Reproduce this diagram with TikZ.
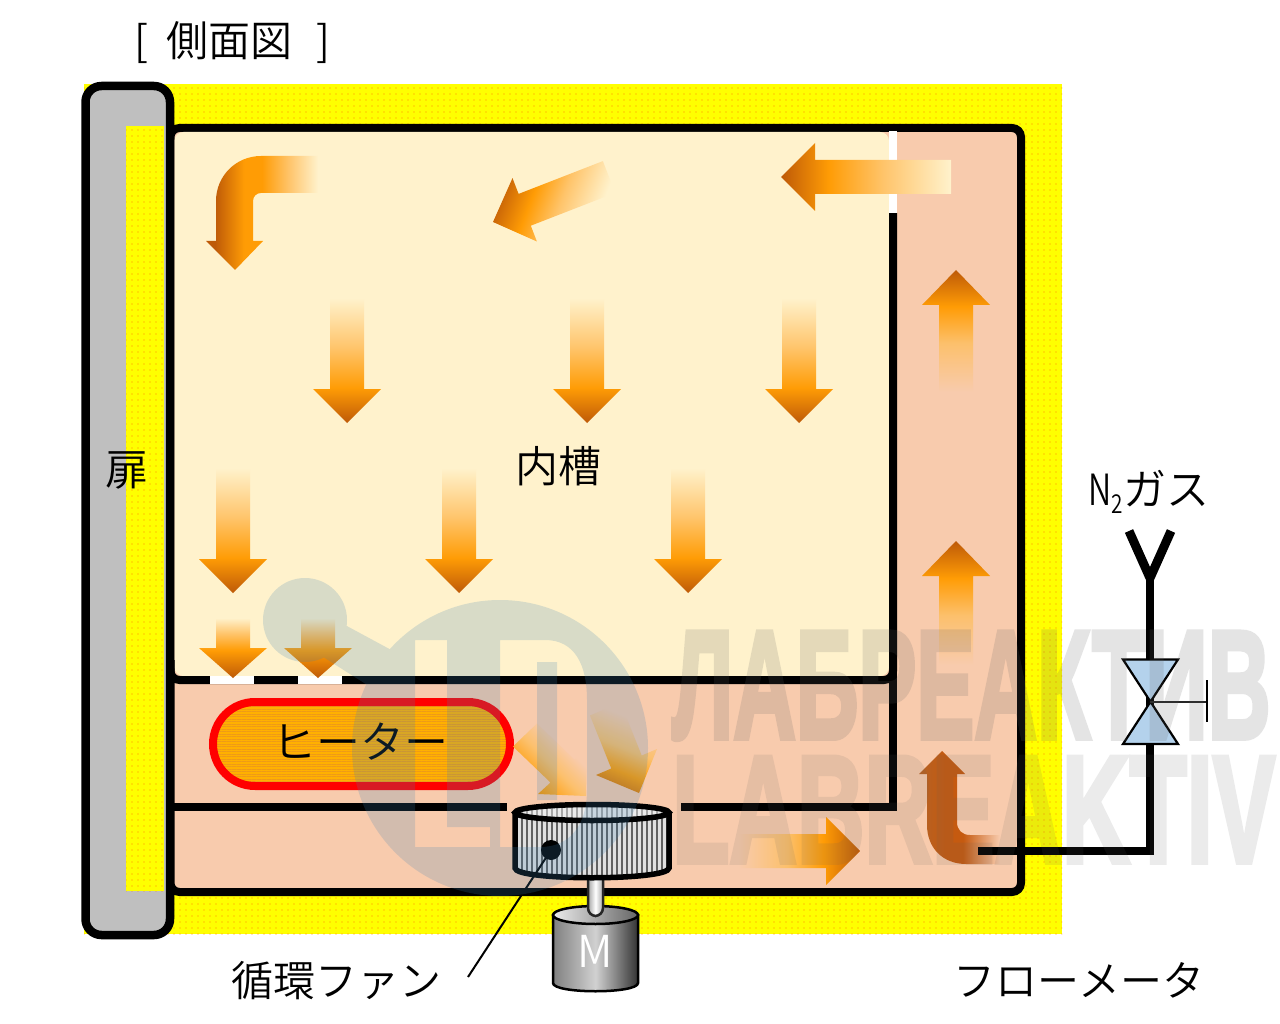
\documentclass[tikz,border=0pt]{standalone}
\usepackage{fontspec}
\usepackage{graphicx}
\setmainfont{Noto Sans CJK JP DemiLight}
\newfontfamily\wmfont[FakeBold=3.5]{Liberation Sans Bold}
\usetikzlibrary{patterns.meta}
\definecolor{cream}{HTML}{FFF2CC}
\definecolor{peach}{HTML}{F8CBAD}
\definecolor{dk}{HTML}{BE5A08}
\definecolor{orng}{HTML}{FF9C05}
\definecolor{lor}{HTML}{FFC46A}
\definecolor{lpe}{HTML}{FCC06C}
\definecolor{dkb}{HTML}{B86020}
\definecolor{dkc}{HTML}{C55A10}
\definecolor{doorgray}{HTML}{BFBFBF}
\definecolor{valveblue}{HTML}{B4D2EC}
\definecolor{logoblue}{HTML}{3C82B4}
\definecolor{pureyellow}{RGB}{255,255,0}
\definecolor{dotorange}{RGB}{255,130,0}
\definecolor{purered}{RGB}{255,0,0}
\definecolor{heatfill}{HTML}{FFB000}
\definecolor{heatline}{HTML}{EE9A18}
\pgfdeclareverticalshading{fadecream}{100bp}{color(0bp)=(cream);color(25bp)=(cream);color(45bp)=(lor);color(61bp)=(orng);color(75bp)=(dk);color(100bp)=(dk)}
\pgfdeclareverticalshading{diagcream}{100bp}{color(0bp)=(cream);color(29bp)=(cream);color(47bp)=(lor);color(60bp)=(orng);color(76bp)=(dk);color(100bp)=(dk)}
\pgfdeclareverticalshading{fadepeach}{100bp}{color(0bp)=(peach);color(25bp)=(peach);color(45bp)=(lpe);color(60bp)=(orng);color(75bp)=(dk);color(100bp)=(dk)}
\pgfdeclareverticalshading{shortcream}{100bp}{color(0bp)=(cream);color(25bp)=(cream);color(38bp)=(lor);color(52bp)=(orng);color(75bp)=(dk);color(100bp)=(dk)}
\pgfdeclareverticalshading{diagpeach}{100bp}{color(0bp)=(peach);color(32bp)=(peach);color(50bp)=(lpe);color(64bp)=(orng);color(82bp)=(dk);color(100bp)=(dk)}
\pgfdeclareverticalshading{diagpeachB}{100bp}{color(0bp)=(peach);color(36bp)=(peach);color(52bp)=(lpe);color(70bp)=(orng);color(92bp)=(dk);color(100bp)=(dk)}
\pgfdeclarehorizontalshading{cornerA}{100bp}{color(0bp)=(dk);color(25bp)=(dk);color(29bp)=(dk);color(42bp)=(orng);color(50bp)=(orng);color(62bp)=(lor);color(75bp)=(cream);color(100bp)=(cream)}
\pgfdeclarehorizontalshading{cornerB}{100bp}{color(0bp)=(dkb);color(29bp)=(dkb);color(40bp)=(dkc);color(50bp)=(dkc);color(71bp)=(peach);color(100bp)=(peach)}
\tikzset{
  yellowzone/.style={fill=pureyellow},
  yellowdots/.style={pattern={Dots[radius=0.7pt,distance=6pt]},pattern color=dotorange},
  wall/.style={draw=black,line width=8pt},
  pipeline/.style={draw=black,line width=7.5pt},
  lbl/.style={inner sep=0pt,font=\fontsize{#1}{#1}\selectfont},
  downflow/.style={shading=fadecream,shading angle=180},
  shortflow/.style={shading=shortcream,shading angle=180},
  upflow/.style={shading=fadepeach,shading angle=0},
  wmark/.style={inner sep=0pt,anchor=north west,text=black!62}
}
\newcommand{\downflowat}[3]{% x, top, headbase
  \shade[downflow] (#1-17,#2) -- (#1+17,#2) -- (#1+17,#3) -- (#1+34,#3) -- (#1,#3+34) -- (#1-34,#3) -- (#1-17,#3) -- cycle;}
\begin{document}
\begin{tikzpicture}[x=1pt,y=-1pt]
\useasboundingbox (0,0) rectangle (1280,1024);
\fill[white] (0,0) rectangle (1280,1024);
% insulation
\path[yellowzone] (84,84) rectangle (1062,934);
\path[yellowdots] (84,84) rectangle (1062,934);
% door
\draw[line width=8.5pt,fill=doorgray,rounded corners=16pt] (85.5,86) rectangle (170,935);
\path[yellowzone] (126,126) rectangle (164,891);
\path[yellowdots] (126,126) rectangle (164,891);
% chamber
\draw[wall,fill=peach,rounded corners=9pt] (170.5,128) rectangle (1021,892);
\fill[cream,rounded corners=9pt] (174.5,132) rectangle (889,676);
% tank walls
\draw[wall,line cap=butt,rounded corners=9pt] (170.5,660) -- (170.5,680) -- (893,680) -- (893,213);
\draw[white,line width=8pt] (893,131) -- (893,213);
\draw[white,line width=8pt] (210,680) -- (254,680);
\draw[white,line width=8pt] (298,680) -- (342,680);
\draw[wall] (170,807) -- (507,807);
\draw[wall] (681,807) -- (897,807);
\draw[wall] (893,807) -- (893,660);
% heater
\fill[heatfill,rounded corners=42pt] (213,702) rectangle (510,786);
\fill[pattern={Lines[angle=0,distance=2.5pt,line width=.6pt]},pattern color=heatline,rounded corners=42pt] (213,702) rectangle (510,786);
\draw[purered,line width=8pt,rounded corners=42pt] (213,702) rectangle (510,786);
\node[lbl=44] (heater) at (360,742) {ヒーター};
% flow arrows
\downflowat{347}{298}{389}
\downflowat{587}{298}{389}
\downflowat{799}{298}{389}
\downflowat{233}{468}{559}
\downflowat{459}{468}{559}
\downflowat{688}{468}{559}
\shade[shortflow] (216,618) -- (250,618) -- (250,648) -- (267,648) -- (233,678) -- (199,648) -- (216,648) -- cycle;
\shade[shortflow] (301,618) -- (335,618) -- (335,648) -- (352,648) -- (318,678) -- (284,648) -- (301,648) -- cycle;
% top right arrow
\shade[shading=fadecream,shading angle=90] (951,160) -- (815,160) -- (815,143) -- (781,177) -- (815,211) -- (815,194) -- (951,194) -- cycle;
% diagonal arrow in tank
\shade[shading=diagcream,shading angle=69] (615.1,192.9) -- (530.8,225.7) -- (536.9,241.5) -- (493,222) -- (512.5,178.1) -- (518.6,193.9) -- (602.9,161.1) -- cycle;
% corner arrow top-left
\shade[shading=cornerA] (318,156) -- (261,156) .. controls (236,156) and (216,176) .. (216,201) -- (216,241) -- (206,241) -- (235,270) -- (263,241) -- (253,241) -- (253,201) .. controls (253,196) and (257,193) .. (261,193) -- (318,193) -- cycle;
% duct arrows
\shade[upflow] (939,392) -- (973,392) -- (973,305) -- (990,305) -- (956,270) -- (922,305) -- (939,305) -- cycle;
\shade[upflow] (939,665) -- (973,665) -- (973,576) -- (990,576) -- (956,541) -- (922,576) -- (939,576) -- cycle;
\shade[shading=fadepeach,shading angle=270] (738,834) -- (826,834) -- (826,817) -- (860,851) -- (826,885) -- (826,868) -- (738,868) -- cycle;
\shade[shading=cornerB] (1007,835) -- (970,835) .. controls (962,835) and (957,830) .. (957,822) -- (957,774) -- (965,774) -- (942,751) -- (919,774) -- (927,774) -- (927,825) .. controls (927,848) and (943,864) .. (966,864) -- (1007,864) -- cycle;
\shade[shading=diagpeachB,shading angle=135] (537,723.5) -- (574.5,759.5) -- (587,748) -- (586,796) -- (538,794) -- (550.5,782.5) -- (513,746.5) -- cycle;
\shade[shading=diagpeach,shading angle=158] (620.5,702.5) -- (641.7,755.5) -- (657,749) -- (639,793) -- (596,775) -- (611.3,768.5) -- (590,715.5) -- cycle;
% motor
\draw[black,line width=2.5pt,left color=black!50,right color=black!80,middle color=black!18] (553,915) -- (553,983) .. controls (553,994) and (638,994) .. (638,983) -- (638,915) -- cycle;
\draw[black,line width=2.5pt,left color=black!8,right color=black!60] (595.5,915) ellipse (42.5 and 9);
\node[lbl=44,text=white] (motor) at (595,951) {M};
% fan shaft
\draw[black!85,line width=2.5pt,left color=black!35,right color=black!35,middle color=white,rounded corners=8pt] (588,870) -- (588,916) -- (603,916) -- (603,870) -- cycle;
% fan
\fill[black!12] (515,812) -- (515,868) .. controls (515,881) and (669,881) .. (669,868) -- (669,812) -- cycle;
\begin{scope}
\clip (515,812) -- (515,868) .. controls (515,881) and (669,881) .. (669,868) -- (669,812) -- cycle;
\foreach \xx in {517,522,...,669} \draw[black!62,line width=2.4pt] (\xx,805) -- (\xx,885);
\end{scope}
\draw[black,line width=5.5pt] (515,812) -- (515,868) .. controls (515,881) and (669,881) .. (669,868) -- (669,812);
\fill[black!8] (592,812.5) ellipse (77 and 9);
\begin{scope}
\clip (592,812.5) ellipse (77 and 9);
\foreach \xx in {517,522,...,669} \draw[black!35,line width=2pt] (\xx,800) -- (\xx,825);
\end{scope}
\draw[black,line width=5.5pt] (592,812.5) ellipse (77 and 8);
% pointer
\coordinate (fandot) at (551,850);
\coordinate (fantail) at (468,977);
\fill[black] (fandot) circle (10pt);
\draw[black,line width=2pt] (fandot) -- (fantail);
% nitrogen line
\coordinate (pipestart) at (978,851);
\coordinate (pipecorner) at (1150,851);
\coordinate (valvecentre) at (1150,702);
\coordinate (yfoot) at (1150,578);
\draw[pipeline,line join=miter] (pipestart) -- (pipecorner) -- (valvecentre) -- (yfoot);
\draw[black,line width=9pt,line join=miter] (1129,531) -- (yfoot) -- (1171,531);
\draw[black,line width=2.2pt,fill=valveblue,line join=miter] (1123,659.5) -- (1178,659.5) -- (1123,744) -- (1178,744) -- cycle;
\coordinate (handle) at (1207,702);
\draw[black!85,line width=2pt] (valvecentre) -- (handle);
\draw[black,line width=2pt] (1207,680) -- (1207,722);
% labels
\node[lbl=42] (titlelabel) at (232,43) {[\hspace{19pt}側面図\hspace{23pt}]};
\node[lbl=43] (doorlabel) at (127,470) {扉};
\node[lbl=43] (tanklabel) at (558,466) {内槽};
\node[lbl=43] (gaslabel) at (1149,492) {\scalebox{.75}[1]{N}\raisebox{-8pt}{\fontsize{26}{26}\selectfont\scalebox{.8}[1]{2}}ガス};
\node[lbl=42] (fanlabel) at (336,981) {循環ファン};
\node[lbl=42] (meterlabel) at (1079,980) {フローメータ};
% watermark
\begin{scope}[transparency group,opacity=.2]
\fill[logoblue,even odd rule] (500,748) circle (148pt)
  (415,640) -- (447,640) -- (447,827) -- (490,827) -- (490,847) -- (415,847) -- cycle
  (500,640) -- (545,640) .. controls (575,640) and (587,665) .. (587,700) -- (587,790) .. controls (587,825) and (570,847) .. (540,847) -- (500,847) -- cycle
  (537,662) -- (557,662) -- (557,800) -- (537,800) -- cycle;
\fill[logoblue] (305,620) circle (42pt);
\fill[logoblue] (320,655) -- (345,625) -- (395,652) -- (372,688) -- cycle;
\end{scope}
\begin{scope}[transparency group,opacity=.17]
\node[wmark] (wmcyr) at (672,632) {\resizebox{598pt}{106pt}{\raisebox{0pt}[\height][0pt]{\wmfont ЛАБРЕАКТИВ}}};
\end{scope}
\begin{scope}[transparency group,opacity=.12]
\node[wmark] (wmlat) at (672,757) {\resizebox{603pt}{105pt}{\raisebox{0pt}[\height][0pt]{\wmfont LABREAKTIV}}};
\end{scope}
\end{tikzpicture}
\end{document}
